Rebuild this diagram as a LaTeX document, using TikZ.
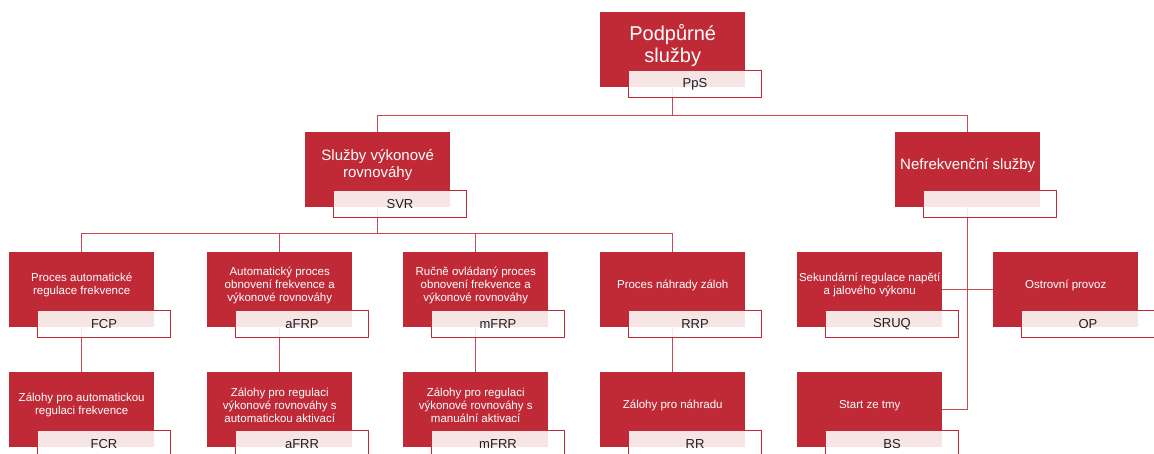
\documentclass[tikz,border=0pt]{standalone}
\usepackage{fontspec}
\setmainfont{Liberation Sans}
\usetikzlibrary{backgrounds}

\definecolor{svcred}{HTML}{C02A37}
\definecolor{tagtext}{HTML}{1E1E1E}

\tikzset{
  svcbox/.style={fill=svcred, minimum width=145pt, minimum height=75pt, inner sep=0pt},
  svcsmall/.style={text=white, align=center, font=\fontsize{11.5}{13}\selectfont},
  svcmid/.style={text=white, align=center, font=\fontsize{15}{17}\selectfont},
  svcbig/.style={text=white, align=center, font=\fontsize{20}{22}\selectfont},
  tagbox/.style={draw=svcred, line width=1pt, fill=white, fill opacity=0.88,
    text opacity=1, text=tagtext, minimum width=133pt, minimum height=27pt,
    inner sep=0pt, font=\fontsize{13}{15}\selectfont},
  link/.style={draw=svcred!85, line width=1.2pt}
}

% red box, its text and the tag below it
\newcommand{\service}[6][svcsmall]{%
  \node[svcbox, anchor=north west] (#2) at (#3,#4) {};
  \node[#1] (#2-txt) at ([yshift=4.5pt]#2.center) {#5};
  \node[tagbox, anchor=north west] (#2-tag) at ([xshift=28pt,yshift=17pt]#2.south west) {#6};
}

\begin{document}
\begin{tikzpicture}[x=1pt, y=-1pt]
  \useasboundingbox (0,0) rectangle (1154,454);
  \clip (0,0) rectangle (1154,454);

  \service[svcbig]{pps}{600}{12}{Podpůrné\\služby}{PpS}
  \service[svcmid]{svr}{305}{132}{Služby výkonové\\rovnováhy}{SVR}
  \service[svcmid]{nfs}{895}{132}{Nefrekvenční služby}{}

  \service{fcp}{9}{252}{Proces automatické\\regulace frekvence}{FCP}
  \service{afrp}{207}{252}{Automatický proces\\obnovení frekvence a\\výkonové rovnováhy}{aFRP}
  \service{mfrp}{403}{252}{Ručně ovládaný proces\\obnovení frekvence a\\výkonové rovnováhy}{mFRP}
  \service{rrp}{600}{252}{Proces náhrady záloh}{RRP}
  \service{sruq}{797}{252}{Sekundární regulace napětí\\a jalového výkonu}{SRUQ}
  \service{op}{993}{252}{Ostrovní provoz}{OP}

  \service{fcr}{9}{372}{Zálohy pro automatickou\\regulaci frekvence}{FCR}
  \service{afrr}{207}{372}{Zálohy pro regulaci\\výkonové rovnováhy s\\automatickou aktivací}{aFRR}
  \service{mfrr}{403}{372}{Zálohy pro regulaci\\výkonové rovnováhy s\\manuální aktivací}{mFRR}
  \service{rr}{600}{372}{Zálohy pro náhradu}{RR}
  \service{bs}{797}{372}{Start ze tmy}{BS}

  \begin{scope}[on background layer]
    \draw[link] (pps.south) -- ++(0,28) coordinate (pps-bus);
    \draw[link] (pps-bus -| svr) -- (pps-bus -| nfs);
    \draw[link] (pps-bus -| svr) -- (svr.north);
    \draw[link] (pps-bus -| nfs) -- (nfs.north);

    \draw[link] (svr.south) -- ++(0,26) coordinate (svr-bus);
    \draw[link] (svr-bus -| fcp) -- (svr-bus -| rrp);
    \foreach \n in {fcp,afrp,mfrp,rrp}
      \draw[link] (svr-bus -| \n) -- (\n.north);
    \foreach \a/\b in {fcp/fcr,afrp/afrr,mfrp/mfrr,rrp/rr}
      \draw[link] (\a.south) -- (\b.north);

    \draw[link] (nfs.south) |- (bs.east);
    \draw[link] (sruq.east) -- (op.west);
  \end{scope}
\end{tikzpicture}
\end{document}
